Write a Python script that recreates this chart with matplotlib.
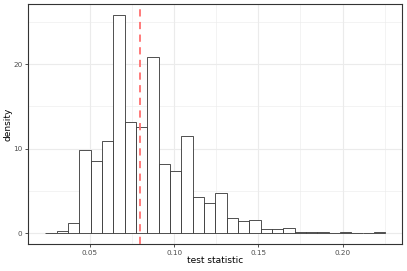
import numpy as np
import matplotlib.pyplot as plt

# histogram (30 bins)
bin_start = 0.0234
bin_end = 0.2254
density = [0.07, 0.28, 1.22, 9.78, 8.48, 10.85, 25.8, 13.2, 12.5, 20.8,
           8.17, 7.34, 11.48, 4.3, 3.6, 4.73, 1.78, 1.38, 1.54, 0.47,
           0.47, 0.55, 0.12, 0.12, 0.12, 0.04, 0.1, 0.0, 0.0, 0.08]
observed = 0.0797

xticks = [0.05, 0.10, 0.15, 0.20]
xticklabels = ["0.05", "0.10", "0.15", "0.20"]
yticks = [0, 10, 20]

edges = np.linspace(bin_start, bin_end, len(density) + 1)
width = edges[1] - edges[0]

fig = plt.figure(figsize=(4.07, 2.71), dpi=100)
ax = fig.add_axes([0.0688, 0.0996, 0.9189, 0.8856])

ax.bar(edges[:-1], density, width=width, align="edge", facecolor="white",
       edgecolor="#333333", linewidth=0.6, zorder=2)
ax.axvline(observed, color="#FF6F6F", linestyle=(0, (4, 3)), linewidth=1.3, zorder=3)

ax.set_xlim(0.01318, 0.2353)
ax.set_ylim(-1.29, 27.1)

ax.set_xticks(xticks)
ax.set_xticklabels(xticklabels)
ax.set_yticks(yticks)
ax.set_xticks([0.075, 0.125, 0.175, 0.225], minor=True)
ax.set_yticks([5, 15, 25], minor=True)
ax.grid(which="major", color="#EBEBEB", linewidth=0.8, zorder=0)
ax.grid(which="minor", color="#EBEBEB", linewidth=0.4, zorder=0)
ax.set_axisbelow(True)

ax.tick_params(which="major", length=2.5, width=0.6, color="#333333",
               labelsize=5.2, labelcolor="#4D4D4D", pad=1.5)
ax.tick_params(which="minor", length=0)
for s in ax.spines.values():
    s.set_color("#333333")
    s.set_linewidth(0.8)

ax.set_xlabel("test statistic", fontsize=6.5)
ax.set_ylabel("density", fontsize=6.5)
ax.xaxis.set_label_coords(0.5, -0.05)
ax.yaxis.set_label_coords(-0.042, 0.5)

fig.savefig("out.png", dpi=100)
